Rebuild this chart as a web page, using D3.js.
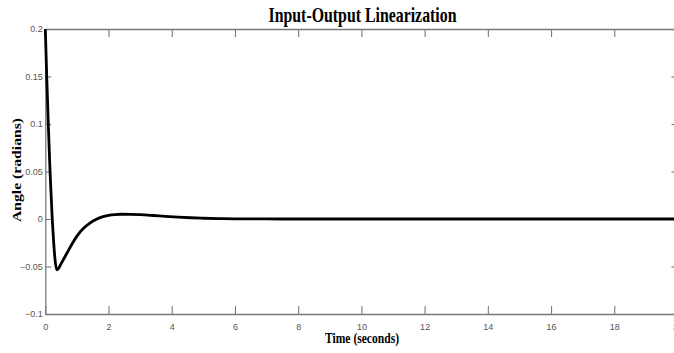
<!DOCTYPE html>
<html>
<head>
<meta charset="utf-8">
<script src="https://cdn.jsdelivr.net/npm/d3@7"></script>
<style>
  html, body { margin: 0; padding: 0; background: #fff; }
  svg { display: block; }
</style>
</head>
<body>
<svg id="chart" width="674" height="353"></svg>
<script>
const title = "Input-Output Linearization";
const xLabel = "Time (seconds)";
const yLabel = "Angle (radians)";
const xTicks = [0, 2, 4, 6, 8, 10, 12, 14, 16, 18, 20];
const yTicks = [-0.1, -0.05, 0, 0.05, 0.1, 0.15, 0.2];
const time = [0, 0.045, 0.095, 0.15, 0.22, 0.26, 0.3, 0.36, 0.42, 0.5, 0.6, 0.7, 0.85, 1.0, 1.2, 1.4, 1.6, 1.8, 2.0, 2.2, 2.4, 2.7, 3.0, 3.4, 3.8, 4.2, 4.6, 5.0, 5.5, 6.0, 7.0, 8.0, 10, 14, 20];
const angle = [0.2, 0.15, 0.1, 0.05, 0.0, -0.022, -0.04, -0.0535, -0.052, -0.047, -0.041, -0.035, -0.026, -0.018, -0.010, -0.0045, -0.0005, 0.0022, 0.0038, 0.0047, 0.005, 0.0049, 0.0045, 0.0037, 0.0028, 0.002, 0.0013, 0.0008, 0.0004, 0.0002, 0.00005, 0, 0, 0, 0];

const svg = d3.select("#chart");
const m = { left: 45.3, top: 29, right: 677.5, bottom: 314 };
const x = d3.scaleLinear().domain([0, 20]).range([m.left, m.right]);
const y = d3.scaleLinear().domain([-0.1, 0.2]).range([m.bottom, m.top]);

const axisColor = "#7a7a7a";
const labelColor = "#555";

function styleAxis(g) {
  g.select(".domain").attr("stroke", axisColor).attr("stroke-width", 1.3);
  g.selectAll(".tick line").attr("stroke", axisColor).attr("stroke-width", 1.1);
  g.selectAll(".tick text").attr("fill", labelColor)
    .style("font-family", "'Liberation Sans', Arial, sans-serif").style("font-size", "9px");
}

// bottom axis
svg.append("g").attr("transform", `translate(0,${m.bottom})`)
  .call(d3.axisBottom(x).tickValues(xTicks).tickSizeInner(-8).tickSizeOuter(0).tickPadding(10).tickFormat(d3.format("~g")))
  .call(styleAxis);
// top axis
svg.append("g").attr("transform", `translate(0,${m.top})`)
  .call(d3.axisTop(x).tickValues(xTicks).tickSizeInner(-8).tickSizeOuter(0).tickFormat(""))
  .call(styleAxis);
// left axis
svg.append("g").attr("transform", `translate(${m.left},0)`)
  .call(d3.axisLeft(y).tickValues(yTicks).tickSizeInner(-6).tickSizeOuter(0).tickPadding(2.5).tickFormat(d3.format("~g")))
  .call(styleAxis);
// right axis
svg.append("g").attr("transform", `translate(${m.right},0)`)
  .call(d3.axisRight(y).tickValues(yTicks).tickSizeInner(-6).tickSizeOuter(0).tickFormat(""))
  .call(styleAxis);

// curve
const pts = time.map((t, i) => [t, angle[i]]);
svg.append("path")
  .datum(pts)
  .attr("fill", "none")
  .attr("stroke", "#000")
  .attr("stroke-width", 2.8)
  .attr("stroke-linejoin", "round")
  .attr("d", d3.line().x(d => x(d[0])).y(d => y(d[1])).curve(d3.curveMonotoneX));

// title
svg.append("text")
  .attr("x", 362.5).attr("y", 22)
  .attr("text-anchor", "middle")
  .attr("textLength", 188).attr("lengthAdjust", "spacingAndGlyphs")
  .style("font-family", "'Liberation Serif', 'Times New Roman', serif")
  .style("font-weight", "bold").style("font-size", "21px")
  .text(title);

// x label
svg.append("text")
  .attr("x", 362).attr("y", 343)
  .attr("text-anchor", "middle")
  .attr("textLength", 74).attr("lengthAdjust", "spacingAndGlyphs")
  .style("font-family", "'Liberation Serif', 'Times New Roman', serif")
  .style("font-weight", "bold").style("font-size", "14px")
  .text(xLabel);

// y label
svg.append("text")
  .attr("transform", `translate(20.5,170) rotate(-90)`)
  .attr("text-anchor", "middle")
  .attr("textLength", 104).attr("lengthAdjust", "spacingAndGlyphs")
  .style("font-family", "'Liberation Serif', 'Times New Roman', serif")
  .style("font-weight", "bold").style("font-size", "12px")
  .text(yLabel);
</script>
</body>
</html>
